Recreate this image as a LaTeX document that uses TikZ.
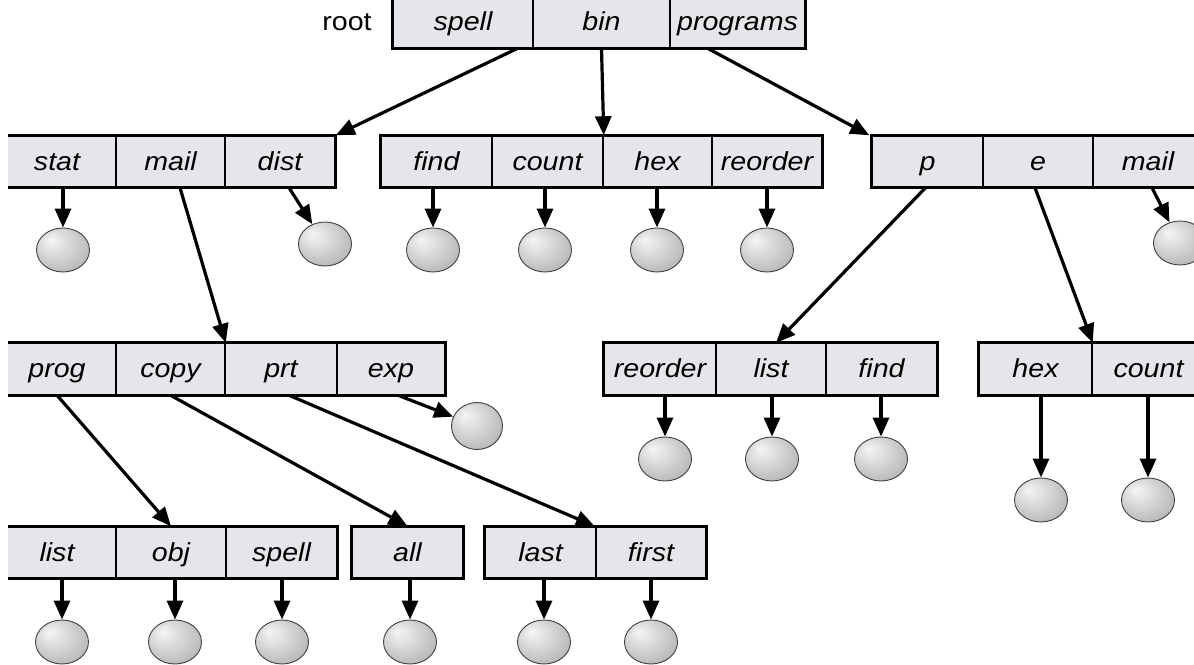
\documentclass[tikz,border=0pt]{standalone}
\usepackage{fontspec}
\setmainfont{Liberation Sans}[FakeStretch=1.1]
\usetikzlibrary{arrows.meta,shapes.geometric}
\definecolor{cellfill}{RGB}{231,229,233}
\pgfdeclareradialshading{ballgray}{\pgfpoint{-12bp}{12bp}}{color(0bp)=(black!4); color(12bp)=(black!13); color(30bp)=(black!27); color(50bp)=(black!36)}

\begin{document}
\begin{tikzpicture}[x=1pt, y=-1pt,
      cell/.style={draw=black, line width=1.5pt, fill=cellfill, minimum height=51pt,
        inner sep=0pt, text height=20pt, text depth=3pt,
        font=\fontsize{26}{29}\selectfont\itshape},
      frame/.style={draw=black, line width=2.6pt},
      knob/.style={ellipse, minimum width=53pt, minimum height=44pt, inner sep=0pt,
        shading=ballgray, draw=black!75, line width=0.9pt},
      ptr/.style={-{Triangle[length=19pt,width=16pt]}, line width=3.2pt},
    ]
    \useasboundingbox (0,0) rectangle (1194,664);
    \clip (8,0) rectangle (1194,664);

    % root directory
    \node[font=\fontsize{26}{29}\selectfont] (root) at (347,22) {root};
    \node[cell, minimum width=140pt] (rspell) at (463,22) {spell};
    \node[cell, minimum width=137pt] (rbin) at (601.5,22) {bin};
    \node[cell, minimum width=135pt] (rprogs) at (737.5,22) {programs};
    \draw[frame] (rspell.north west) rectangle (rprogs.south east);

    % second level
    \node[cell, minimum width=118pt] (stat) at (57,161.5) {stat};
    \node[cell, minimum width=109pt] (amail) at (170.5,161.5) {mail};
    \node[cell, minimum width=110pt] (dist) at (280,161.5) {dist};
    \draw[frame] (stat.north west) rectangle (dist.south east);

    \node[cell, minimum width=111pt] (find) at (436.5,161.5) {find};
    \node[cell, minimum width=111pt] (count) at (547.5,161.5) {count};
    \node[cell, minimum width=109pt] (hex) at (657.5,161.5) {hex};
    \node[cell, minimum width=110pt] (reorder) at (767,161.5) {reorder};
    \draw[frame] (find.north west) rectangle (reorder.south east);

    \node[cell, minimum width=111pt] (p) at (927.5,161.5) {p};
    \node[cell, minimum width=110pt] (e) at (1038,161.5) {e};
    \node[cell, minimum width=110pt] (cmail) at (1148,161.5) {mail};
    \draw[frame] (p.north west) rectangle (cmail.south east);

    % third level
    \node[cell, minimum width=118pt] (prog) at (57,369) {prog};
    \node[cell, minimum width=109pt] (copy) at (170.5,369) {copy};
    \node[cell, minimum width=112pt] (prt) at (281,369) {prt};
    \node[cell, minimum width=108pt] (exp) at (391,369) {exp};
    \draw[frame] (prog.north west) rectangle (exp.south east);

    \node[cell, minimum width=112pt] (ereorder) at (660,369) {reorder};
    \node[cell, minimum width=110pt] (elist) at (771,369) {list};
    \node[cell, minimum width=111pt] (efind) at (881.5,369) {find};
    \draw[frame] (ereorder.north west) rectangle (efind.south east);

    \node[cell, minimum width=113pt] (fhex) at (1035.5,369) {hex};
    \node[cell, minimum width=113pt] (fcount) at (1148.5,369) {count};
    \draw[frame] (fhex.north west) rectangle (fcount.south east);

    % fourth level
    \node[cell, minimum width=118pt] (glist) at (57,552.5) {list};
    \node[cell, minimum width=110pt] (obj) at (171,552.5) {obj};
    \node[cell, minimum width=111pt] (gspell) at (281.5,552.5) {spell};
    \draw[frame] (glist.north west) rectangle (gspell.south east);

    \node[cell, minimum width=111pt] (all) at (407.5,552.5) {all};
    \draw[frame] (all.north west) rectangle (all.south east);

    \node[cell, minimum width=111pt] (last) at (540.5,552.5) {last};
    \node[cell, minimum width=110pt] (first) at (651,552.5) {first};
    \draw[frame] (last.north west) rectangle (first.south east);

    % files
    \node[knob] (kstat) at (63,250) {};
    \node[knob] (kdist) at (325,244) {};
    \node[knob] (kfind) at (433,250) {};
    \node[knob] (kcount) at (545,250) {};
    \node[knob] (khex) at (657,250) {};
    \node[knob] (kreorder) at (767,250) {};
    \node[knob] (kmail) at (1180,243) {};
    \node[knob, minimum width=51pt, minimum height=47pt] (kexp) at (477,426) {};
    \node[knob] (kereorder) at (665,459) {};
    \node[knob] (kelist) at (772,459) {};
    \node[knob] (kefind) at (881,459) {};
    \node[knob] (kfhex) at (1041,500) {};
    \node[knob] (kfcount) at (1148,500) {};
    \node[knob] (kglist) at (62,642) {};
    \node[knob] (kobj) at (175,642) {};
    \node[knob] (kgspell) at (282,642) {};
    \node[knob] (kall) at (410,642) {};
    \node[knob] (klast) at (544,642) {};
    \node[knob] (kfirst) at (651,642) {};

    % directory links
    \draw[ptr] ([xshift=-16pt]rspell.south east) -- (dist.north east);
    \draw[ptr] (rbin.south) -- (count.north east);
    \draw[ptr] ([xshift=-30pt]rprogs.south) -- ([xshift=-2pt]p.north west);
    \draw[ptr] ([xshift=9.5pt]amail.south) -- (copy.north east);
    \draw[ptr] ([xshift=-2pt]p.south) -- ([xshift=5pt]elist.north);
    \draw[ptr] ([xshift=-3pt]e.south) -- (fhex.north east);
    \draw[ptr] (prog.south) -- (obj.north);
    \draw[ptr] (copy.south) -- (all.north);
    \draw[ptr] ([xshift=8pt]prt.south) -- ([xshift=-2pt]last.north east);

    % file links
    \draw[ptr] (kstat |- stat.south) -- (kstat.north);
    \draw[ptr] ([xshift=9pt]dist.south) -- (kdist);
    \draw[ptr] (kfind |- find.south) -- (kfind.north);
    \draw[ptr] (kcount |- count.south) -- (kcount.north);
    \draw[ptr] (khex |- hex.south) -- (khex.north);
    \draw[ptr] (kreorder |- reorder.south) -- (kreorder.north);
    \draw[ptr] ([xshift=4pt]cmail.south) -- (kmail);
    \draw[ptr] ([xshift=7pt]exp.south) -- (kexp);
    \draw[ptr] (kereorder |- ereorder.south) -- (kereorder.north);
    \draw[ptr] (kelist |- elist.south) -- (kelist.north);
    \draw[ptr] (kefind |- efind.south) -- (kefind.north);
    \draw[ptr] (kfhex |- fhex.south) -- (kfhex.north);
    \draw[ptr] (kfcount |- fcount.south) -- (kfcount.north);
    \draw[ptr] (kglist |- glist.south) -- (kglist.north);
    \draw[ptr] (kobj |- obj.south) -- (kobj.north);
    \draw[ptr] (kgspell |- gspell.south) -- (kgspell.north);
    \draw[ptr] (kall |- all.south) -- (kall.north);
    \draw[ptr] (klast |- last.south) -- (klast.north);
    \draw[ptr] (kfirst |- first.south) -- (kfirst.north);
  \end{tikzpicture}
\end{document}
